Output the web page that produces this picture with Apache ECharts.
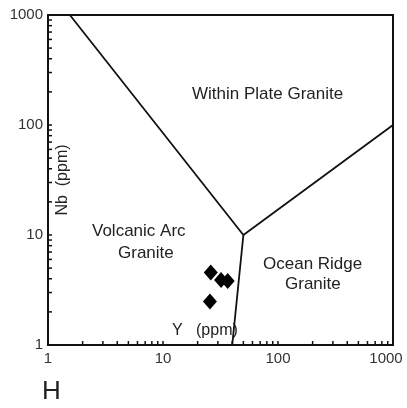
<!DOCTYPE html>
<html>
<head>
<meta charset="utf-8">
<script src="https://cdn.jsdelivr.net/npm/echarts@6/dist/echarts.min.js"></script>
<style>html,body{margin:0;padding:0;background:#fff}#c{width:407px;height:408px}</style>
</head>
<body>
<div id="c"></div>
<script>
// Sample data (Y ppm vs Nb ppm)
const sampleY = [26, 32, 36.5, 25.6];
const sampleNb = [4.55, 3.9, 3.82, 2.48];
// Discrimination boundaries (Pearce et al. 1984)
const boundaryA = [[1.55, 1000], [50, 10], [1000, 100]];
const boundaryB = [[50, 10], [40, 1]];
// Axis tick values
const tickLabels = [1, 10, 100, 1000];
const minorTicks = [2,3,4,5,6,7,8,9,10,20,30,40,50,60,70,80,90,100,200,300,400,500,600,700,800,900];

const chart = echarts.init(document.getElementById('c'), null, {renderer: 'canvas'});
const font = 'Liberation Sans, Arial, sans-serif';

function tickSeries(axis) {
  return {
    type: 'custom',
    silent: true,
    clip: false,
    data: minorTicks.map(v => [v]),
    renderItem: function (params, api) {
      const v = api.value(0);
      if (axis === 'x') {
        const p = api.coord([v, 1]);
        return {type: 'line', shape: {x1: p[0], y1: p[1], x2: p[0], y2: p[1] - 4},
          style: {stroke: '#111', lineWidth: 1.5}};
      } else {
        const p = api.coord([1, v]);
        return {type: 'line', shape: {x1: p[0], y1: p[1], x2: p[0] + 4, y2: p[1]},
          style: {stroke: '#111', lineWidth: 1.5}};
      }
    }
  };
}

chart.setOption({
  animation: false,
  backgroundColor: '#fff',
  grid: {left: 48, right: 14, top: 15, bottom: 63, containLabel: false, outerBoundsMode: 'none',
    show: true, borderColor: '#111', borderWidth: 2},
  xAxis: {
    type: 'log', logBase: 10, min: 1, max: 1000, interval: 1,
    axisLine: {show: true, lineStyle: {color: '#111', width: 2}},
    axisTick: {show: false},
    splitLine: {show: false},
    axisLabel: {color: '#333', fontSize: 15, fontFamily: font, margin: 6,
      formatter: v => v === 1000 ? '{last|1000}' : (tickLabels.includes(v) ? String(v) : ''),
      rich: {last: {color: '#333', fontSize: 15, fontFamily: font, padding: [0, 14, 0, 0]}}}
  },
  yAxis: {
    type: 'log', logBase: 10, min: 1, max: 1000, interval: 1,
    axisLine: {show: true, lineStyle: {color: '#111', width: 2}},
    axisTick: {show: false},
    splitLine: {show: false},
    axisLabel: {color: '#333', fontSize: 15, fontFamily: font, margin: 5,
      formatter: v => tickLabels.includes(v) ? String(v) : ''}
  },
  series: [
    {type: 'line', data: boundaryA, symbol: 'none', lineStyle: {color: '#111', width: 1.8}, silent: true},
    {type: 'line', data: boundaryB, symbol: 'none', lineStyle: {color: '#111', width: 1.8}, silent: true},
    {type: 'scatter', data: sampleY.map((y, i) => [y, sampleNb[i]]), symbol: 'diamond',
      symbolSize: [14, 16], itemStyle: {color: '#000', opacity: 1}},
    tickSeries('x'),
    tickSeries('y')
  ],
  graphic: [
    {type: 'text', x: 63, y: 180, rotation: Math.PI / 2,
      style: {text: 'Nb  (ppm)', font: '16px ' + font, fill: '#222', align: 'center', verticalAlign: 'middle'}},
    {type: 'text', left: 192, top: 86, style: {text: 'Within Plate Granite', font: '17px ' + font, fill: '#222'}},
    {type: 'text', left: 92, top: 223, style: {text: 'Volcanic Arc', font: '17px ' + font, fill: '#222'}},
    {type: 'text', left: 118, top: 245, style: {text: 'Granite', font: '17px ' + font, fill: '#222'}},
    {type: 'text', left: 263, top: 256, style: {text: 'Ocean Ridge', font: '17px ' + font, fill: '#222'}},
    {type: 'text', left: 285, top: 276, style: {text: 'Granite', font: '17px ' + font, fill: '#222'}},
    {type: 'text', left: 172, top: 323, style: {text: 'Y   (ppm)', font: '16px ' + font, fill: '#222'}},
    {type: 'text', left: 42, top: 379, style: {text: 'H', font: '26px ' + font, fill: '#222'}}
  ]
});
</script>
</body>
</html>
